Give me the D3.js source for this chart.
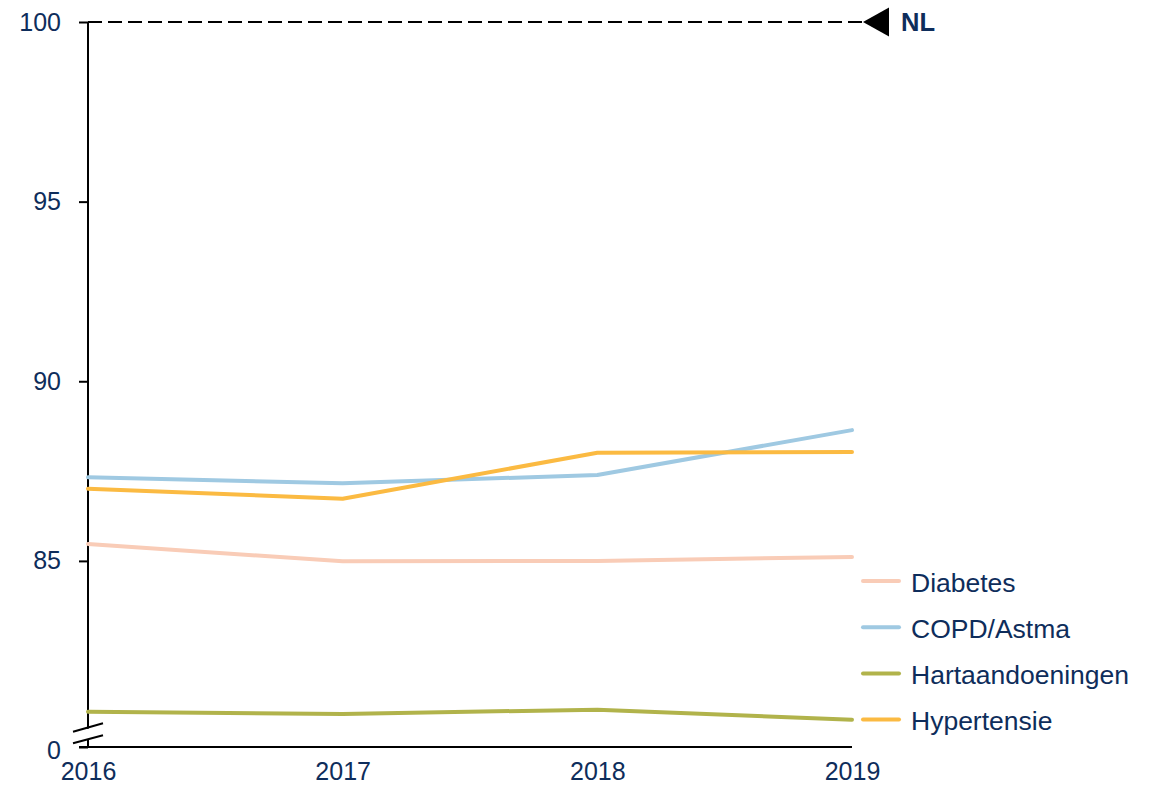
<!DOCTYPE html>
<html>
<head>
<meta charset="utf-8">
<script src="https://cdn.jsdelivr.net/npm/d3@7"></script>
<style>
  body { margin: 0; background: #fff; }
  svg text { font-family: "Liberation Sans", Arial, sans-serif; fill: #0e2d5b; }
</style>
</head>
<body>
<svg id="chart" width="1157" height="785"></svg>
<script>
// data
const years = ["2016", "2017", "2018", "2019"];
const diabetes = [85.47, 84.99, 85.0, 85.11];
const copdAstma = [87.33, 87.16, 87.39, 88.64];
const hartaandoeningen = [80.80, 80.74, 80.86, 80.58];
const hypertensie = [87.01, 86.73, 88.01, 88.03];
const seriesNames = ["Diabetes", "COPD/Astma", "Hartaandoeningen", "Hypertensie"];
const seriesColors = ["#f9ccb7", "#9fc9e2", "#b1b34b", "#fbba42"];
const yTicks = [85, 90, 95, 100];
const yBreak = 79.82;   // bottom of the broken axis, labelled "0"
const refValue = 100;   // NL reference
const refLabel = "NL";

const series = seriesNames.map((name, i) => ({
  name,
  color: seriesColors[i],
  values: [diabetes, copdAstma, hartaandoeningen, hypertensie][i],
}));

const svg = d3.select("#chart");
const x = d3.scalePoint().domain(years).range([88, 852]);
const y = d3.scaleLinear().domain([yBreak, 100]).range([747, 22]);

// NL reference line + marker
svg.append("line")
  .attr("x1", x.range()[0]).attr("x2", 862)
  .attr("y1", y(refValue)).attr("y2", y(refValue))
  .attr("stroke", "#000").attr("stroke-width", 1.8)
  .attr("stroke-dasharray", "14,6");
svg.append("path")
  .attr("d", d3.line()([[863, y(refValue)], [889, y(refValue) - 14.5], [889, y(refValue) + 14.5]]) + "Z")
  .attr("fill", "#000");
svg.append("text")
  .attr("x", 901).attr("y", y(refValue))
  .attr("dy", "0.36em")
  .style("font-size", "25.5px").style("font-weight", "bold")
  .text(refLabel);

// left axis (labels + ticks)
const yAxis = svg.append("g")
  .attr("transform", `translate(${x.range()[0]},0)`)
  .call(d3.axisLeft(y)
    .tickValues([yBreak, ...yTicks])
    .tickSize(9)
    .tickPadding(18)
    .tickFormat(d => d === yBreak ? "0" : d));
yAxis.select(".domain").remove();
yAxis.selectAll(".tick line").attr("stroke", "#000").attr("stroke-width", 2);
yAxis.selectAll(".tick text").style("font-size", "25px").style("fill", "#0e2d5b");
yAxis.selectAll(".tick").filter(d => d === yBreak).select("text").attr("dy", "0.45em");

// axis lines
svg.append("line")
  .attr("x1", x.range()[0]).attr("x2", x.range()[0])
  .attr("y1", y(100)).attr("y2", y(yBreak))
  .attr("stroke", "#000").attr("stroke-width", 2);

// x axis
const xAxis = svg.append("g")
  .attr("transform", `translate(0,${y(yBreak)})`)
  .call(d3.axisBottom(x).tickSize(0).tickPadding(15));
xAxis.select(".domain").remove();
xAxis.selectAll(".tick text").style("font-size", "25px").style("fill", "#0e2d5b");
svg.append("line")
  .attr("x1", 79).attr("x2", x.range()[1])
  .attr("y1", y(yBreak)).attr("y2", y(yBreak))
  .attr("stroke", "#000").attr("stroke-width", 2);

// axis break marks
const bx = x.range()[0];
svg.append("path")
  .attr("d", `M${bx - 15},733 L${bx + 15},724.5 L${bx + 15},735 L${bx - 15},743.5 Z`)
  .attr("fill", "#fff");
[[731.7, 723.3], [743.3, 735.3]].forEach(([y1, y2]) => {
  svg.append("line")
    .attr("x1", bx - 15).attr("x2", bx + 15)
    .attr("y1", y1).attr("y2", y2)
    .attr("stroke", "#000").attr("stroke-width", 2);
});

// series lines
const line = d3.line()
  .x((d, i) => x(years[i]))
  .y(d => y(d));
svg.append("g").selectAll("path")
  .data(series)
  .join("path")
  .attr("d", d => line(d.values))
  .attr("fill", "none")
  .attr("stroke", d => d.color)
  .attr("stroke-width", 4)
  .attr("stroke-linecap", "round")
  .attr("stroke-linejoin", "round");

// legend
const legend = svg.append("g").selectAll("g")
  .data(series)
  .join("g")
  .attr("transform", (d, i) => `translate(863,${581 + i * 46.2})`);
legend.append("line")
  .attr("x1", 0).attr("x2", 36)
  .attr("stroke", d => d.color)
  .attr("stroke-width", 4)
  .attr("stroke-linecap", "round");
legend.append("text")
  .attr("x", 48).attr("dy", "0.4em")
  .style("font-size", "26.5px")
  .text(d => d.name);
</script>
</body>
</html>
